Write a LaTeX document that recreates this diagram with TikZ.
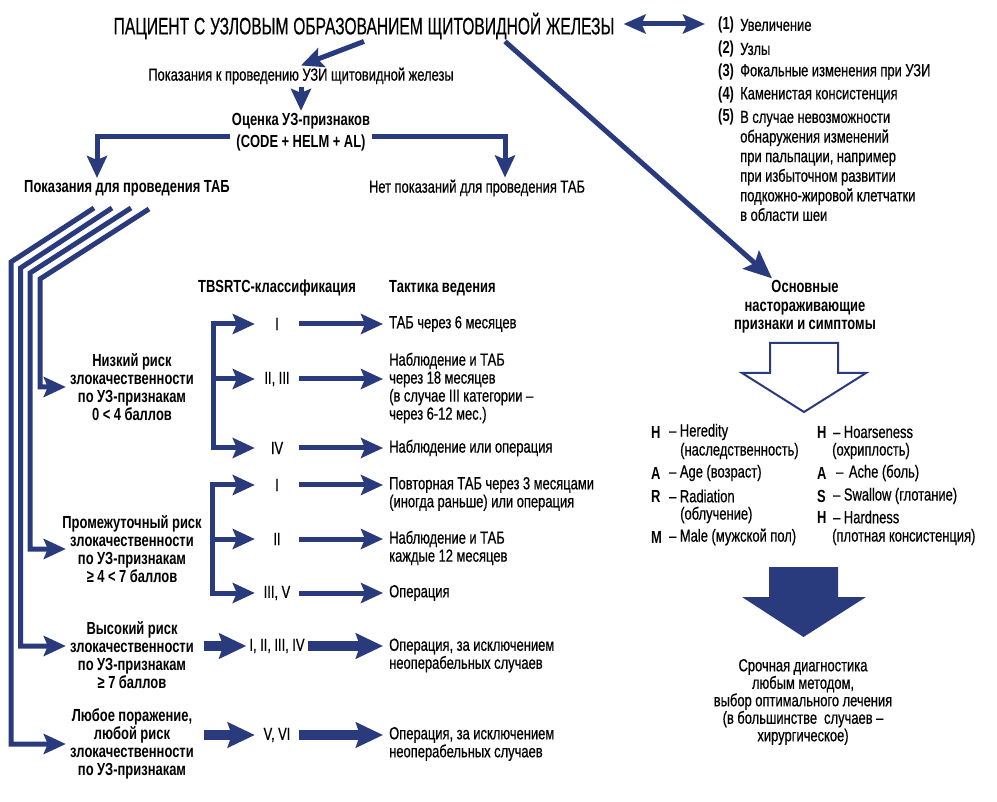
\documentclass[tikz,border=0pt]{standalone}
\usepackage{fontspec}
\setmainfont{Liberation Sans}[FakeStretch=0.74, WordSpace=0.8, UprightFeatures={FakeBold=0.5}]
\newfontfamily\titlefont{Liberation Sans}[FakeStretch=0.65, WordSpace=0.8, UprightFeatures={FakeBold=0.4}]
\usetikzlibrary{arrows.meta,calc}
\definecolor{navy}{RGB}{42,59,125}
\begin{document}
\begin{tikzpicture}[x=1pt,y=-1pt,
  every node/.style={font=\fontsize{17.5}{18}\selectfont, inner sep=2pt, text=black, execute at begin node={\spaceskip=0.2em\relax}},
  bf/.style={font=\fontsize{17.5}{18}\selectfont\bfseries},
  >={Stealth[length=22pt,width=20pt,inset=4pt]},
  conn/.style={draw=navy, line width=5pt, ->},
  fanc/.style={draw=navy, line width=5pt, ->, line join=miter},
  fat/.style={draw=navy, line width=10pt, -{Stealth[length=27pt,width=25pt,inset=4pt]}},
  big/.style={draw=navy, line width=5pt, -{Stealth[length=28pt,width=24pt,inset=5pt]}},
  dbl/.style={draw=navy, line width=5pt, {Stealth[length=22pt,width=19pt,inset=4pt]}-{Stealth[length=22pt,width=19pt,inset=4pt]}},
  risk/.style={bf, text width=150pt, align=center, inner xsep=0pt},
  outc/.style={anchor=west, align=left, inner xsep=6pt},
  cls/.style={minimum width=44pt, inner xsep=3pt},
  lab/.style={bf, anchor=west},
  itm/.style={anchor=west},
]
\useasboundingbox (0,0) rectangle (997,802);
\fill[white] (0,0) rectangle (997,802);

% top
\node[font=\titlefont\fontsize{24}{28}\selectfont] (title) at (364,26) {ПАЦИЕНТ С УЗЛОВЫМ ОБРАЗОВАНИЕМ ЩИТОВИДНОЙ ЖЕЛЕЗЫ};
\node (pok) at (301,76) {Показания к проведению УЗИ щитовидной железы};
\node[bf, align=center, font=\fontsize{17.5}{22}\selectfont\bfseries] (ots) at (301,132) {Оценка УЗ-признаков\\(CODE + HELM + AL)};
\node[bf] (tab) at (127,188) {Показания для проведения ТАБ};
\node (net) at (477,188) {Нет показаний для проведения ТАБ};

\draw[conn] (title.south) -- (pok.north);
\draw[conn] (pok.south) -- (ots.north);
\draw[conn] ($(ots.west)+(0,5)$) -| ($(tab.north)+(-30,0)$);
\draw[conn] ($(ots.east)+(0,5)$) -| ($(net.north)+(28,0)$);

% list
\node[lab] (lab1) at (716,25) {(1)};
\node[lab] (lab2) at (716,49) {(2)};
\node[lab] (lab3) at (716,72) {(3)};
\node[lab] (lab4) at (716,95) {(4)};
\node[lab] (lab5) at (716,117) {(5)};
\node[itm] (li1) at (738,25) {Увеличение};
\node[itm] (li2) at (738,49) {Узлы};
\node[itm] (li3) at (738,72) {Фокальные изменения при УЗИ};
\node[itm] (li4) at (738,95) {Каменистая консистенция};
\node[itm, align=left, font=\fontsize{17.5}{19.6}\selectfont] (li5) at (738,166) {В случае невозможности\\обнаружения изменений\\при пальпации, например\\при избыточном развитии\\подкожно-жировой клетчатки\\в области шеи};
\draw[dbl] ($(title.east)+(7,-2)$) -- ($(title.east -| lab1.west)+(-11,-2)$);

% right branch
\node[bf, align=center, font=\fontsize{17.5}{18.5}\selectfont\bfseries] (osn) at (805,307) {Основные\\настораживающие\\признаки и симптомы};
\draw[big] ($(title.south)+(141,0)$) -- ($(osn.north)+(-33,0)$);

\draw[navy, line width=2pt, fill=white] (770,343) -- (838,343) -- (838,373) -- (866,373) -- (804,412) -- (742,373) -- (770,373) -- cycle;

\node[lab] (hl1) at (649,432) {H};
\node[lab] (hl2) at (649,473) {A};
\node[lab] (hl3) at (649,496) {R};
\node[lab] (hl4) at (649,537) {M};
\node[itm] (ht1) at (667,432) {– Heredity};
\node[itm] (ht1b) at (678,451) {(наследственность)};
\node[itm] (ht2) at (667,473) {– Age (возраст)};
\node[itm] (ht3) at (667,496) {– Radiation};
\node[itm] (ht3b) at (678,515) {(облучение)};
\node[itm] (ht4) at (667,537) {– Male (мужской пол)};

\node[lab] (hr1) at (815,432) {H};
\node[lab] (hr2) at (815,473) {A};
\node[lab] (hr3) at (815,496) {S};
\node[lab] (hr4) at (815,517) {H};
\node[itm] (hs1) at (831,432) {– Hoarseness};
\node[itm] (hs1b) at (830,451) {(охриплость)};
\node[itm] (hs2) at (831,473) {\hspace{3pt}– \hspace{2pt}Ache (боль)};
\node[itm] (hs3) at (831,496) {– Swallow (глотание)};
\node[itm] (hs4) at (831,517) {– Hardness};
\node[itm] (hs4b) at (830,537) {(плотная консистенция)};

\fill[navy] (769,567) -- (838,567) -- (838,597) -- (866,597) -- (803.5,637) -- (742,597) -- (769,597) -- cycle;

\node[align=center, font=\fontsize{17.5}{17.5}\selectfont] (fin) at (803,702) {Срочная диагностика\\любым методом,\\выбор оптимального лечения\\(в большинстве\ \ случаев –\\хирургическое)};

% headers
\node[bf] (h1) at (277,288) {TBSRTC-классификация};
\node[bf, outc] (h2) at (383,288) {Тактика ведения};

% risk groups
\node[risk] (low) at (132,387) {Низкий риск\\злокачественности\\по УЗ-признакам\\0 < 4 баллов};
\node[risk] (mid) at (132,549) {Промежуточный риск\\злокачественности\\по УЗ-признакам\\≥ 4 < 7 баллов};
\node[risk] (high) at (132,655) {Высокий риск\\злокачественности\\по УЗ-признакам\\≥ 7 баллов};
\node[risk] (any) at (132,744) {Любое поражение,\\любой риск\\злокачественности\\по УЗ-признакам};

% fan connectors
\coordinate (s1) at (94,208);  \coordinate (k1) at (11,262);
\coordinate (s2) at (112,208); \coordinate (k2) at (20.5,268);
\coordinate (s3) at (131,208); \coordinate (k3) at (30,273);
\coordinate (s4) at (149,209); \coordinate (k4) at (40,279);
\draw[fanc] (s1) -- (k1) |- ($(any.west)+(9,0)$);
\draw[fanc] (s2) -- (k2) |- ($(high.west)+(9,-9)$);
\draw[fanc] (s3) -- (k3) |- ($(mid.west)+(9,0)$);
\draw[fanc] (s4) -- (k4) |- ($(low.west)+(9,0)$);

% low risk classes
\node[cls] (c1) at (277,324) {I};
\node[cls] (c2) at (277,379) {II, III};
\node[cls] (c3) at (277,448) {IV};
\node[outc] (o1) at (383,324) {ТАБ через 6 месяцев};
\node[outc] (o2) at (383,388) {Наблюдение и ТАБ\\через 18 месяцев\\(в случае III категории –\\через 6-12 мес.)};
\node[outc] (o3) at (383,448) {Наблюдение или операция};
\coordinate (bx1) at (213,0);
\draw[conn, <->] (c1.west) -| (bx1 |- c3.west) -- (c3.west);
\draw[conn] (bx1 |- c2.west) -- (c2.west);
\draw[conn] (c1.east) -- (c1.east -| o1.west);
\draw[conn] (c2.east) -- (c2.east -| o2.west);
\draw[conn] (c3.east) -- (c3.east -| o3.west);

% intermediate classes
\node[cls] (c4) at (277,485) {I};
\node[cls] (c5) at (277,539) {II};
\node[cls] (c6) at (277,593) {III, V};
\node[outc] (o4) at (383,494) {Повторная ТАБ через 3 месяцами\\(иногда раньше) или операция};
\node[outc] (o5) at (383,548) {Наблюдение и ТАБ\\каждые 12 месяцев};
\node[outc] (o6) at (383,593) {Операция};
\coordinate (bx2) at (212,0);
\draw[conn, <->] (c4.west) -| (bx2 |- c6.west) -- (c6.west);
\draw[conn] (bx2 |- c5.west) -- (c5.west);
\draw[conn] (c4.east) -- (c4.east -| o4.west);
\draw[conn] (c5.east) -- (c5.east -| o5.west);
\draw[conn] (c6.east) -- (c6.east -| o6.west);

% high risk
\node[cls] (hc) at (277,646) {I, II, III, IV};
\node[outc] (o7) at (383,655.5) {Операция, за исключением\\неоперабельных случаев};
\draw[fat] ($(high.east |- hc.west)+(-3,0)$) -- (hc.west);
\draw[fat] (hc.east) -- (hc.east -| o7.west);

% any lesion
\node[cls] (vc) at (277,735) {V, VI};
\node[outc] (o8) at (383,744) {Операция, за исключением\\неоперабельных случаев};
\draw[fat] ($(any.east |- vc.west)+(-3,0)$) -- (vc.west);
\draw[fat] (vc.east) -- (vc.east -| o8.west);
\end{tikzpicture}
\end{document}
